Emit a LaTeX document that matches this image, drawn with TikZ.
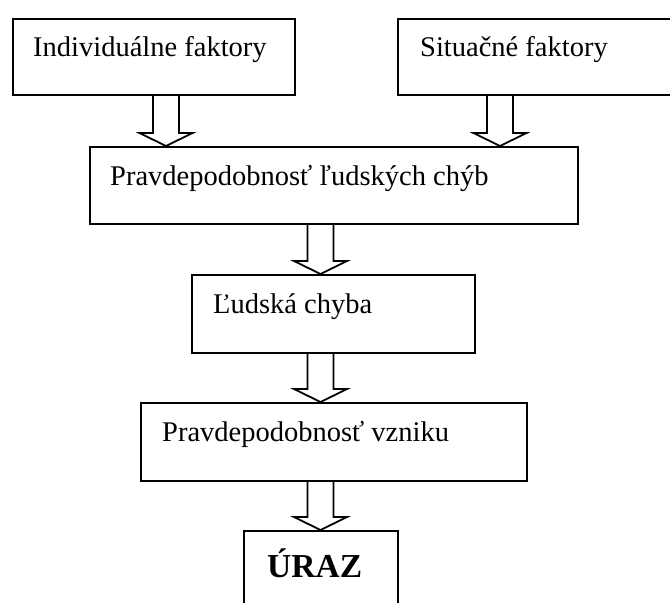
\documentclass[tikz,border=0pt]{standalone}
\usepackage{fontspec}
\setmainfont{Liberation Serif}
\usetikzlibrary{calc}
\tikzset{
  boxnode/.style={draw, line width=1.8pt, rectangle, inner sep=0pt, anchor=north west},
  lbl/.style={inner sep=0pt, anchor=base west, font=\fontsize{28.5}{34}\selectfont},
  biglbl/.style={inner sep=0pt, anchor=base west, font=\fontsize{33.5}{40}\selectfont\bfseries},
  blockarr/.style={draw, line width=1.8pt, line join=miter}
}
\newcommand\blockarrow[3]{% #1 = x centre, #2 = source node, #3 = target node
  \draw[blockarr] let \p1=(#2.south), \p2=(#3.north) in
    ({#1pt-13pt},\y1) -- ({#1pt-13pt},{\y2+13pt}) -- ({#1pt-26.5pt},{\y2+13pt})
    -- ({#1pt},\y2) -- ({#1pt+26.5pt},{\y2+13pt}) -- ({#1pt+13pt},{\y2+13pt})
    -- ({#1pt+13pt},\y1);
}
\begin{document}
\begin{tikzpicture}[x=1pt,y=1pt]
\fill[white] (0,0) rectangle (670,-603);
\useasboundingbox (0,0) rectangle (670,-603);
\clip (0,0) rectangle (670,-603);

\node[boxnode, minimum width=282pt, minimum height=76pt] (b1) at (12,-18) {};
\node[boxnode, minimum width=293pt, minimum height=76pt] (b2) at (397,-18) {};
\node[boxnode, minimum width=488pt, minimum height=77pt] (b3) at (89,-146) {};
\node[boxnode, minimum width=283pt, minimum height=78pt] (b4) at (191,-274) {};
\node[boxnode, minimum width=386pt, minimum height=78pt] (b5) at (140,-402) {};
\node[boxnode, minimum width=154pt, minimum height=95pt] (b6) at (243,-530) {};

\node[lbl] (t1) at ($(b1.north west)+(21,-38)$) {Individuálne faktory};
\node[lbl] (t2) at ($(b2.north west)+(23,-38)$) {Situačné faktory};
\node[lbl] (t3) at ($(b3.north west)+(21,-39)$) {Pravdepodobnosť ľudských chýb};
\node[lbl] (t4) at ($(b4.north west)+(22,-39)$) {Ľudská chyba};
\node[lbl] (t5) at ($(b5.north west)+(22,-39)$) {Pravdepodobnosť vzniku};
\node[biglbl] (t6) at ($(b6.north west)+(24,-47)$) {ÚRAZ};

\blockarrow{166}{b1}{b3}
\blockarrow{500}{b2}{b3}
\blockarrow{320.5}{b3}{b4}
\blockarrow{320.5}{b4}{b5}
\blockarrow{320.5}{b5}{b6}
\end{tikzpicture}
\end{document}
